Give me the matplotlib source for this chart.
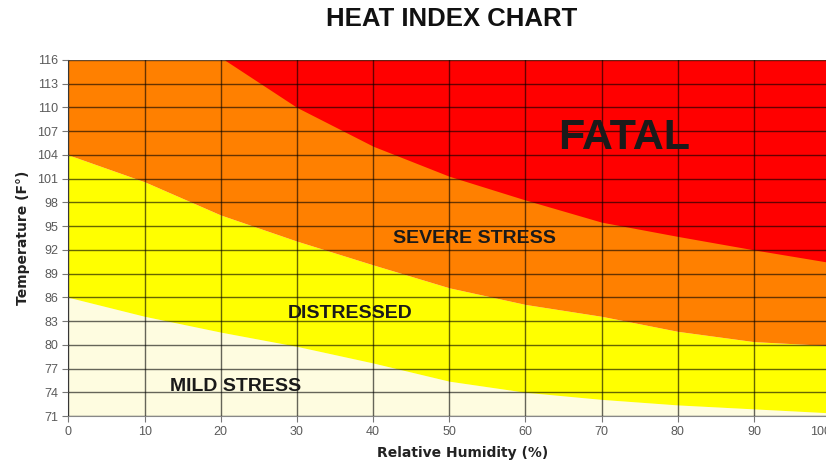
import numpy as np
import matplotlib.pyplot as plt
from matplotlib.transforms import ScaledTranslation

plt.rcParams['font.family'] = ['Liberation Sans', 'DejaVu Sans']

# boundary curves (humidity %, temperature F)
hum = [0, 10, 20, 30, 40, 50, 60, 70, 80, 90, 100]
mild_top = [86, 83.6, 81.6, 79.8, 77.7, 75.4, 74.0, 73.1, 72.4, 71.9, 71.4]
distress_top = [104, 100.6, 96.4, 93.1, 90.1, 87.2, 85.1, 83.6, 81.7, 80.4, 79.9]
fatal_hum = [20.5, 30, 40, 50, 60, 70, 80, 90, 100]
fatal_bottom = [116, 110.0, 105.1, 101.3, 98.3, 95.5, 93.7, 92.0, 90.4]

zone_labels = ["MILD STRESS", "DISTRESSED", "SEVERE STRESS", "FATAL"]
zone_colors = ["#FEFCE0", "#FFFF00", "#FF8000", "#FF0000"]

x_ticks = np.arange(0, 101, 10)
y_ticks = np.arange(71, 117, 3)

fig = plt.figure(figsize=(8.26, 4.63), dpi=100)
ax = fig.add_axes([0.0829, 0.1015, 0.922, 0.769])

ymin, ymax = 71, 116
# stacked zones, bottom to top
ax.fill_between(hum, ymin, mild_top, color=zone_colors[0], lw=0)
ax.fill_between(hum, mild_top, distress_top, color=zone_colors[1], lw=0)
ax.fill_between(hum, distress_top, ymax, color=zone_colors[2], lw=0)
ax.fill_between(fatal_hum, fatal_bottom, ymax, color=zone_colors[3], lw=0)

ax.set_xlim(0, 100)
ax.set_ylim(ymin, ymax)
ax.set_xticks(x_ticks)
ax.set_yticks(y_ticks)
ax.grid(True, color="black", alpha=0.6, lw=1)
ax.set_axisbelow(False)
ax.tick_params(colors="#777777", labelcolor="#5a5a5a", labelsize=9, length=4)
ax.tick_params(axis='x', pad=3)
for s in ["top", "right"]:
    ax.spines[s].set_visible(False)
for s in ["left", "bottom"]:
    ax.spines[s].set_color("#888888")

# the last x label sits a little left of its tick in the original (partly cut off)
last = ax.xaxis.get_major_ticks()[-1].label1
last.set_transform(last.get_transform() + ScaledTranslation(-0.09, 0, fig.dpi_scale_trans))

lab = dict(fontsize=10, fontweight="bold", color="#222222", family="DejaVu Sans")
ax.set_xlabel("Relative Humidity (%)", **lab)
ax.xaxis.set_label_coords(0.518, -0.085)
ax.set_ylabel("Temperature (F°)", **lab)
ax.yaxis.set_label_coords(-0.05, 0.5)

txt = dict(fontweight="bold", color="#1a1a1a", ha="center", va="center")
ax.text(22, 74.7, zone_labels[0], fontsize=14, **txt)
ax.text(37, 83.9, zone_labels[1], fontsize=14, **txt)
ax.text(53.3, 93.4, zone_labels[2], fontsize=14, **txt)
ax.text(73, 106.1, zone_labels[3], fontsize=31, **txt)

fig.text(0.547, 0.96, "HEAT INDEX CHART", fontsize=18.5, fontweight="bold",
         ha="center", va="center", color="#111111")

fig.savefig("out.png", dpi=100)
